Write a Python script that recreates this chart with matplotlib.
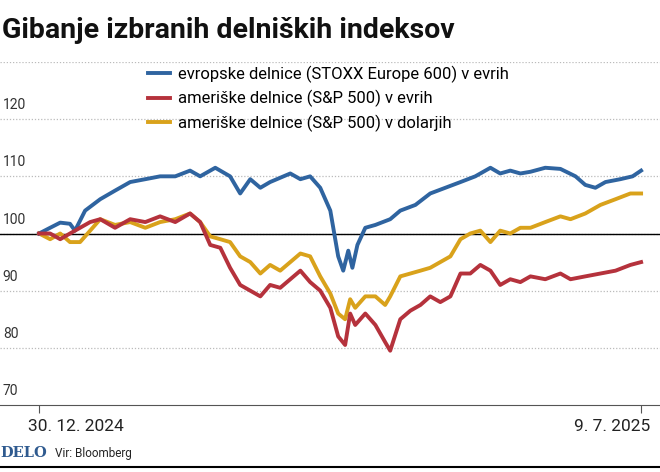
import matplotlib.pyplot as plt
import matplotlib.lines as mlines

# dni od 30. 12. 2024
blue_d = [0, 3.5, 6.7, 9.8, 11.4, 14.6, 19.4, 24.1, 28.9, 33.7, 38.4, 43.2, 47.9, 51.1, 55.9, 60.6, 63.8,
          67, 70.2, 73.3, 79.7, 82.9, 86, 89.2, 92.4, 94.9, 96.5, 98.1, 99.4, 101, 103.5, 106.7, 111.4,
          114.6, 119.4, 124.1, 128.9, 133.7, 138.4, 143.2, 146.3, 149.5, 152.7, 155.9, 160.6, 165.4,
          170.2, 173.3, 176.5, 179.7, 184.4, 188.3, 191]
blue_v = [100, 101, 101.9, 101.7, 100.5, 104, 106, 107.5, 109, 109.5, 110, 110, 111, 110, 111.5, 110, 107,
          109.5, 108, 109, 110.5, 109.5, 110, 108, 104, 96, 93.5, 97, 94, 98, 101, 101.5, 102.5,
          104, 105, 107, 108, 109, 110, 111.5, 110.5, 111, 110.5, 110.8, 111.5, 111.3,
          110, 108.5, 108, 109, 109.5, 110, 111]

red_d = [0, 3.5, 6.7, 9.8, 13, 16.2, 19.4, 24.1, 28.9, 33.7, 38.4, 43.2, 47.9, 51.1, 54.3, 57.5, 60.6,
         63.8, 67, 70.2, 73.3, 76.5, 79.7, 82.9, 86, 89.2, 92.4, 94.9, 97.1, 98.7, 100.3, 103.5, 106.7,
         109.8, 111.4, 114.6, 117.8, 121, 124.1, 127.3, 130.5, 133.7, 136.8, 140, 143.2, 146.3, 149.5,
         152.7, 155.9, 160.6, 165.4, 168.6, 173.3, 178.1, 182.9, 187.6, 191]
red_v = [100, 100, 99, 100, 101, 102, 102.5, 101, 102.5, 102, 103, 102, 103.5, 102, 98, 97.5, 94,
         91, 90, 89, 91, 90.5, 92, 93.5, 91.5, 90, 87, 82, 80.5, 86, 84, 86, 84,
         81, 79.5, 85, 86.5, 87.5, 89, 88, 89, 93, 93, 94.5, 93.5, 91, 92,
         91.5, 92.5, 92, 93, 92, 92.5, 93, 93.5, 94.5, 95]

gold_d = red_d
gold_v = [100, 99, 100, 98.5, 98.5, 100.5, 102.5, 101.5, 102, 101, 102, 102.5, 103.5, 102, 99.5, 99, 98.5,
          96, 95, 93, 94.5, 93.5, 95, 96.5, 96, 92.5, 89.5, 86, 85, 88.5, 87, 89, 89,
          87.5, 89, 92.5, 93, 93.5, 94, 95, 96, 99, 100, 100.5, 98.5, 100.5, 100,
          101, 101, 102, 103, 102.5, 103.5, 105, 106, 107, 107]

y_ticks = [70, 80, 90, 100, 110, 120, 130]
x_ticks = [0, 191]
x_labels = ["30. 12. 2024", "9. 7. 2025"]
names = ["evropske delnice (STOXX Europe 600) v evrih",
         "ameriške delnice (S&P 500) v evrih",
         "ameriške delnice (S&P 500) v dolarjih"]
colors = ["#2f64a0", "#b5323c", "#d9a21b"]

plt.rcParams["font.family"] = "Roboto"
fig = plt.figure(figsize=(6.6, 4.72), dpi=100)
ax = fig.add_axes([0, (472 - 405) / 472, 1, (405 - 62) / 472])
ax.set_xlim(-12.4, 197)
ax.set_ylim(70, 130)

for t in y_ticks[1:]:
    ax.axhline(t, color="#bbbbbb", lw=0.9, ls=(0, (1, 1.5)), zorder=0)
    if t < 130:
        ax.text(-11.5, t + 1.2, str(t), fontsize=10, color="#333333", va="bottom", ha="left")
ax.text(-11.5, 71.2, "70", fontsize=10, color="#333333", va="bottom", ha="left")
ax.axhline(100, color="black", lw=1, zorder=1)

ax.plot(blue_d, blue_v, color=colors[0], lw=2.8, solid_joinstyle="round", zorder=3)
ax.plot(red_d, red_v, color=colors[1], lw=2.8, solid_joinstyle="round", zorder=3)
ax.plot(gold_d, gold_v, color=colors[2], lw=2.8, solid_joinstyle="round", zorder=2)

for s in ["top", "right", "left"]:
    ax.spines[s].set_visible(False)
ax.spines["bottom"].set_color("#555555")
ax.set_yticks([])
ax.set_xticks(x_ticks)
ax.set_xticklabels([])
ax.tick_params(axis="x", length=6, color="#555555")
ax.text(x_ticks[0] - 3.5, 66.3, x_labels[0], fontsize=12.5, color="#222222", ha="left", va="center",
        clip_on=False)
ax.text(x_ticks[1] + 3, 66.3, x_labels[1], fontsize=12.5, color="#222222", ha="right", va="center",
        clip_on=False)

handles = [mlines.Line2D([], [], color=c, lw=2.8) for c in colors]
fig.legend(handles, names, loc="upper left", bbox_to_anchor=(145 / 660, 1 - 62 / 472),
           frameon=False, fontsize=12, handlelength=1.3, handletextpad=0.5, labelspacing=0.45,
           borderaxespad=0, borderpad=0.2)

fig.text(0.003, 1 - 30 / 472, "Gibanje izbranih delniških indeksov", fontsize=20.5, weight="bold",
         va="center", ha="left", color="#111111")
fig.text(0.0, 1 - 453 / 472, "DELO", fontsize=10.5, weight="bold", family="DejaVu Serif",
         color="#2f5a8f", va="center")
fig.text(55 / 660, 1 - 453 / 472, "Vir: Bloomberg", fontsize=8.5, color="#222222", va="center")
fig.add_artist(mlines.Line2D([0, 1], [1 - 467 / 472] * 2, color="black", lw=1.5))

fig.savefig("out.png", dpi=100)
